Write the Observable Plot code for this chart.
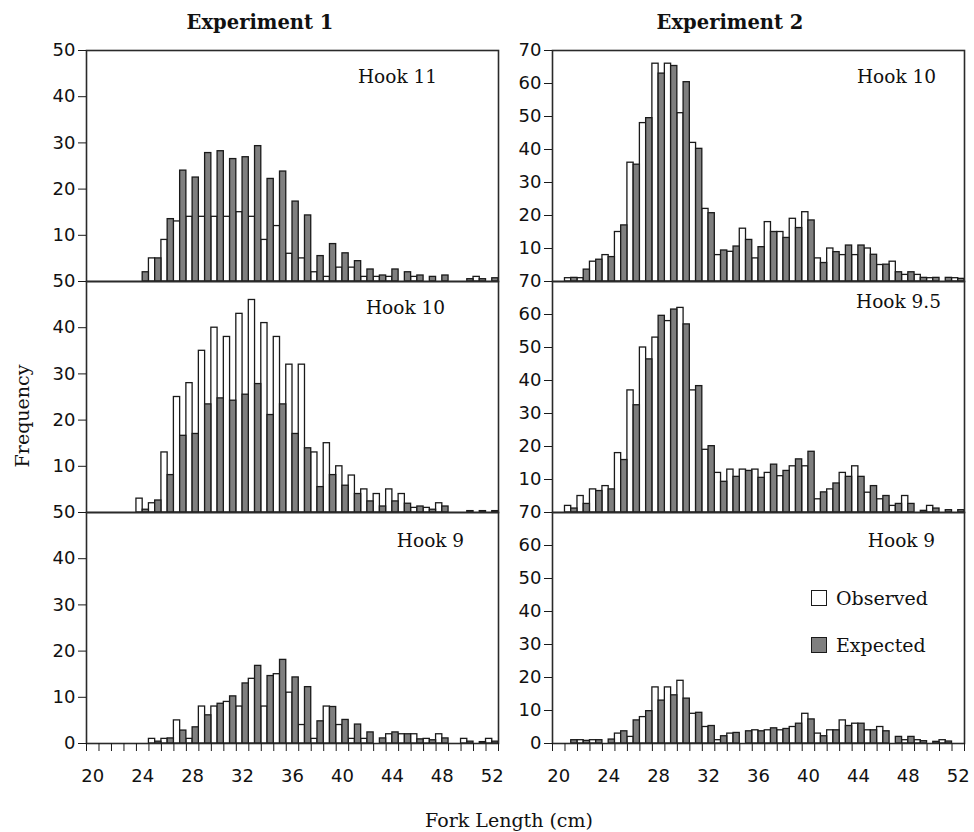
<!DOCTYPE html>
<html><head><meta charset="utf-8">
<script src="https://cdn.jsdelivr.net/npm/d3@7"></script>
<script src="https://cdn.jsdelivr.net/npm/@observablehq/plot@0.6"></script>
<style>
body{margin:0;background:#fff;}
#chart{position:relative;width:974px;height:832px;overflow:hidden;background:#fff;}
#chart svg{position:absolute;max-width:none;overflow:visible;}
.t{position:absolute;font-family:"DejaVu Serif",serif;color:#111;white-space:nowrap;}
.sw{position:absolute;width:16px;height:16px;border:1.5px solid #1a1a1a;box-sizing:border-box;}
</style></head><body><div id="chart"></div>
<script>
// Fork length bins (cm)
const lengths = d3.range(20, 53);
const xLabels = [20, 24, 28, 32, 36, 40, 44, 48, 52];
const series = ["Observed", "Expected"];
const panelTitles = ["Experiment 1", "Experiment 2"];

// Experiment 1
const e1Hook11Obs = [0,0,0,0,0,5,9,13,14,14,14,14,15,14,9,12,6,5,2,1,3,3,1,1,1,0,1,0,0,0,0,1,0];
const e1Hook11Exp = [0,0,0,0,2,5,13.5,24,22.5,27.8,28.2,26.5,26.9,29.3,22.2,23.8,17.3,14.3,5.5,8.1,6.1,4.4,2.6,1.3,2.6,2,1.3,1,1.3,0,0.5,0.5,0.7];
const e1Hook10Obs = [0,0,0,0,3,2,13,25,28,35,40,38,43,46,41,38,32,32,13,15,10,8,5,4,5,4,1,1,2,0,0,0,0];
const e1Hook10Exp = [0,0,0,0,0.6,2.6,8.1,16.6,17,23.4,24.7,24.2,25.5,27.8,21.1,23.4,17,13.9,5.5,8.1,5.8,4,2.4,1.3,2.4,1.9,1.3,0.6,1.3,0,0.3,0.3,0.3];
const e1Hook9Obs = [0,0,0,0,0,1,1,5,1,8,8,9,8,14,8,15,11,4,1,8,4,1,1,0,2,2,2,1,2,0,1,0,1];
const e1Hook9Exp = [0,0,0,0,0,0.4,1.1,2.8,3.5,6.1,8.6,10.2,13,16.8,14.6,18.1,14.3,12.2,4.8,7.9,5.1,4.1,2.4,1.1,2.4,2,0.9,0.7,1.1,0,0.4,0.3,0.4];

// Experiment 2
const e2Hook10Obs = [0,1,1,6,8,15,36,48,66,66,51,42,22,8,9,16,7,18,15,19,21,7,10,8,8,10,5,6,2,2,1,0,1];
const e2Hook10Exp = [0,1.1,3.6,6.6,7.4,17,35.4,49.5,63,65.3,60.4,40.2,20.7,9.4,10.6,12.6,10.4,15,13.2,16.2,18.5,5.6,8.9,10.9,10.9,8.1,5.1,2.8,2.8,1.1,1.1,1.1,0.8];
const e2Hook95Obs = [0,2,5,7,8,18,37,50,53,58,62,37,19,12,13,13,13,12,11,14,14,4,7,12,14,6,4,2,5,0,2,0,0];
const e2Hook95Exp = [0,1.2,2.6,6.5,7,15.9,32.5,46.4,59.6,61.5,57,38.3,20.1,9.3,10.8,12.6,10.5,14.5,12.6,16.1,18.4,6.1,8.8,10.8,10.8,8,5,2.6,2.6,0.5,1.2,0.7,0.7];
const e2Hook9Obs = [0,0,1,1,0,3,2,8,17,17,19,9,5,1,3,0,4,4,4,5,9,3,4,7,6,4,5,0,1,1,0,1,0];
const e2Hook9Exp = [0,1,0.8,1,1.2,3.7,7,9.8,13,14.6,13.6,9.3,5.3,2.2,3.2,3.7,3.7,4.6,4.4,6,7.3,2.2,4,5.3,6,4,3.7,2,2,0.7,0.5,0.6,0];

const chart = document.getElementById("chart");
const FW = 412, FH = 231, ML = 60, MT = 12;
const colLeft = [86, 552];
const rowTop = [50, 281, 512];

function panel(obs, exp, ymax, hook, col, row, hookDx, hookDy) {
  const bottom = row === 2;
  const obsRows = lengths.map((L, i) => ({L, v: obs[i]})).filter(d => d.v > 0);
  const expRows = lengths.map((L, i) => ({L, v: exp[i]})).filter(d => d.v > 0);
  const yTicks = d3.range(bottom ? 0 : 10, ymax + 1, 10);
  const MB = bottom ? 56 : 1;
  const marks = [
    Plot.rectY(obsRows, {x1: d => d.L - 0.5, x2: d => d.L, y: "v", fill: "white", stroke: "#1a1a1a", strokeWidth: 1.3}),
    Plot.rectY(expRows, {x1: d => d.L, x2: d => d.L + 0.5, y: "v", fill: "#7f7f7f", stroke: "#1a1a1a", strokeWidth: 1.3}),
    Plot.frame({stroke: "#2a2a2a", strokeWidth: 1.6}),
    Plot.axisY({ticks: yTicks, tickSize: 8, tickPadding: 3, label: null, fontSize: 18, fill: "#111"}),
    Plot.text([hook], {frameAnchor: "top-left", dx: hookDx, dy: hookDy, textAnchor: "middle", lineAnchor: "middle",
      fontFamily: "DejaVu Serif", fontSize: 18.5, fill: "#111"})
  ];
  if (bottom) {
    marks.push(Plot.axisX({ticks: d3.range(19.5, 53, 1), tickSize: 8, tickFormat: () => "", label: null}));
    marks.push(Plot.axisX({ticks: xLabels, tickSize: 0, tickPadding: 26, label: null, fontSize: 18, fill: "#111"}));
  }
  const svg = Plot.plot({
    width: ML + FW + 10,
    height: MT + FH + MB,
    marginLeft: ML, marginRight: 10, marginTop: MT, marginBottom: MB,
    x: {type: "linear", domain: [19.5, 52.5], axis: bottom ? undefined : null},
    y: {domain: [0, ymax]},
    style: {fontFamily: "DejaVu Sans", fontSize: "18px", color: "#1a1a1a", background: "transparent", overflow: "visible"},
    marks
  });
  svg.style.left = (colLeft[col] - ML) + "px";
  svg.style.top = (rowTop[row] - MT) + "px";
  chart.appendChild(svg);
}

panel(e1Hook11Obs, e1Hook11Exp, 50, "Hook 11", 0, 0, 311, 27);
panel(e1Hook10Obs, e1Hook10Exp, 50, "Hook 10", 0, 1, 319, 27);
panel(e1Hook9Obs, e1Hook9Exp, 50, "Hook 9", 0, 2, 344, 29);
panel(e2Hook10Obs, e2Hook10Exp, 70, "Hook 10", 1, 0, 344, 27);
panel(e2Hook95Obs, e2Hook95Exp, 70, "Hook 9.5", 1, 1, 346, 21);
panel(e2Hook9Obs, e2Hook9Exp, 70, "Hook 9", 1, 2, 349, 29);

function addText(txt, x, y, opts = {}) {
  const d = document.createElement("div");
  d.className = "t";
  d.textContent = txt;
  d.style.fontSize = (opts.size || 18) + "px";
  if (opts.bold) d.style.fontWeight = "bold";
  d.style.left = x + "px";
  d.style.top = y + "px";
  d.style.transform = opts.rotate ? "translate(-50%,-50%) rotate(-90deg)" : (opts.anchor === "start" ? "translate(0,-50%)" : "translate(-50%,-50%)");
  chart.appendChild(d);
}
addText(panelTitles[0], 260, 22, {bold: true, size: 19.5});
addText(panelTitles[1], 730, 22, {bold: true, size: 19.5});
addText("Frequency", 22, 416, {rotate: true, size: 19});
addText("Fork Length (cm)", 509, 820, {size: 19});

// legend (bottom-right panel)
const swColors = ["white", "#7f7f7f"];
const swY = [598, 645];
series.forEach((s, i) => {
  const sw = document.createElement("div");
  sw.className = "sw";
  sw.style.background = swColors[i];
  sw.style.left = "811px";
  sw.style.top = (swY[i] - 8) + "px";
  chart.appendChild(sw);
  addText(s, 836, swY[i], {anchor: "start", size: 19});
});
</script></body></html>
